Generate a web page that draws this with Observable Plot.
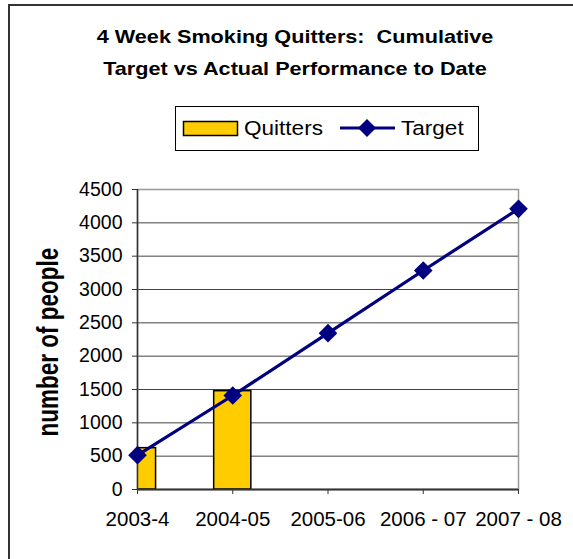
<!DOCTYPE html>
<html>
<head>
<meta charset="utf-8">
<script src="https://cdn.jsdelivr.net/npm/d3@7"></script>
<script src="https://cdn.jsdelivr.net/npm/@observablehq/plot@0.6"></script>
<style>
  body { margin: 0; background: #fff; font-family: "Liberation Sans", Arial, sans-serif; }
  #page { position: relative; width: 573px; height: 559px; overflow: hidden; background: #fff; }
  #frame { position: absolute; left: 8px; top: 4px; width: 640px; height: 640px; border: 2px solid #333; }
  #title { position: absolute; left: 0; top: 21px; width: 590px; text-align: center; font-weight: bold;
           font-size: 18.5px; line-height: 32px; color: #000; transform: scaleX(1.17); transform-origin: 295px 0; white-space: pre; }
  #legend { position: absolute; left: 175px; top: 106px; width: 302px; height: 43px; border: 1px solid #000; background: #fff; }
  #legend span { position: absolute; top: 9px; font-size: 20.5px; line-height: 24px; transform: scaleX(1.1); transform-origin: 0 0; }
  #legend svg { position: absolute; left: 0; top: 0; }
  #ylabel { position: absolute; left: -71px; top: 328px; width: 240px; height: 28px; line-height: 28px; text-align: center;
            font-weight: bold; font-size: 22.5px; transform: rotate(-90deg) scaleY(1.28); transform-origin: 120px 14px; }
  #chart { position: absolute; left: 0; top: 0; }
</style>
</head>
<body>
<div id="page">
  <div id="frame"></div>
  <div id="chart"></div>
  <div id="title">4 Week Smoking Quitters:  Cumulative
Target vs Actual Performance to Date</div>
  <div id="legend">
    <svg width="302" height="43">
      <rect x="7.5" y="14.5" width="54" height="14" fill="#FFCC00" stroke="#000" stroke-width="1.5"></rect>
      <line x1="164" x2="219" y1="21" y2="21" stroke="#000080" stroke-width="3"></line>
      <path d="M191,12L200,21L191,30L182,21Z" fill="#000080"></path>
    </svg>
    <span style="left:68px">Quitters</span>
    <span style="left:225px">Target</span>
  </div>
  <div id="ylabel">number of people</div>
</div>
<script>
// Seasons along the horizontal axis
const categories = ["2003-4", "2004-05", "2005-06", "2006 - 07", "2007 - 08"];
// Cumulative 4-week quitters achieved so far (first two seasons)
const quitters = [620, 1475];
// Cumulative target for each season
const target = [515, 1410, 2345, 3285, 4210];
// Value axis ticks
const yTicks = [0, 500, 1000, 1500, 2000, 2500, 3000, 3500, 4000, 4500];

const barHalf = 0.195;

const quitterRows = quitters.map((v, i) => ({i, season: categories[i], value: v}));
const targetRows = target.map((v, i) => ({i, season: categories[i], value: v}));

const chart = Plot.plot({
  width: 573,
  height: 559,
  marginLeft: 137,
  marginRight: 55,
  marginTop: 189,
  marginBottom: 70,
  style: {fontFamily: "'Liberation Sans', Arial, sans-serif", color: "#000", background: "transparent", overflow: "visible"},
  x: {domain: [0, categories.length - 1], axis: null},
  y: {domain: [0, 4500], axis: null},
  marks: [
    Plot.gridY(yTicks.slice(1), {stroke: "#222", strokeOpacity: 0.85, strokeWidth: 1}),
    Plot.frame({stroke: "#999", strokeWidth: 1.5}),
    Plot.rectY(quitterRows, {
      x1: d => d.i - barHalf, x2: d => d.i + barHalf, y: "value",
      fill: "#FFCC00", stroke: "#000", strokeWidth: 1.5, clip: true
    }),
    Plot.ruleX([0], {stroke: "#333", strokeWidth: 1.5}),
    Plot.ruleY([0], {stroke: "#333", strokeWidth: 2}),
    Plot.axisY(yTicks, {
      tickSize: 5, tickPadding: 10, fontSize: 19.5, label: null, stroke: "#333",
      tickFormat: d => String(d)
    }),
    Plot.axisX(d3.range(categories.length), {
      tickSize: 5, tickPadding: 17, fontSize: 20.5, label: null, stroke: "#333",
      tickFormat: i => categories[i]
    }),
    Plot.line(targetRows, {x: "i", y: "value", stroke: "#000080", strokeWidth: 3.2}),
    Plot.dot(targetRows, {x: "i", y: "value", symbol: "diamond2", r: 8.4, fill: "#000080", stroke: "none"})
  ]
});
document.getElementById("chart").append(chart);
</script>
</body>
</html>
